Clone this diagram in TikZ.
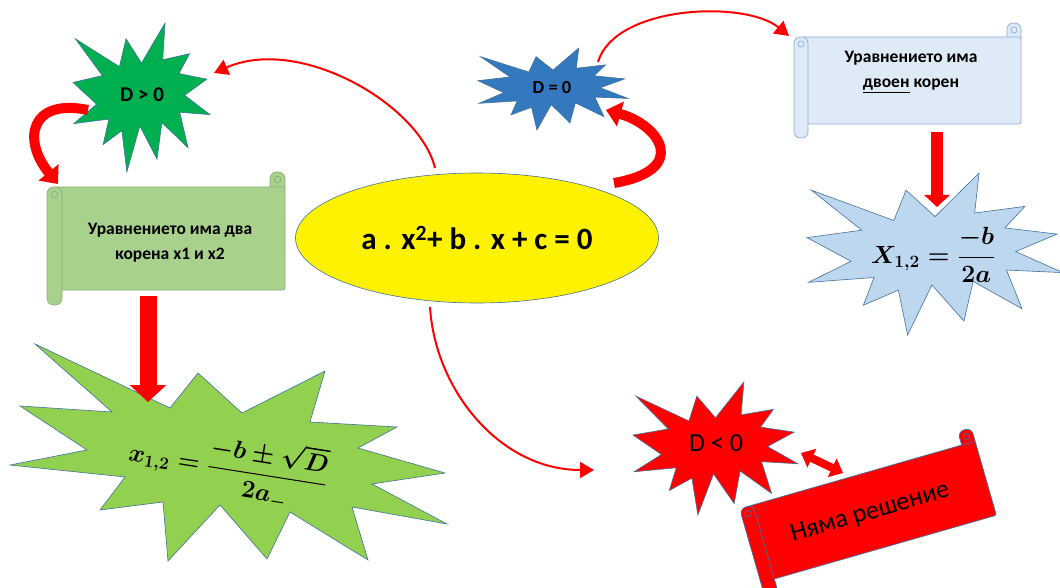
\documentclass[tikz,border=0pt]{standalone}
\usepackage{amsmath}
\usepackage{fontspec}
\setmainfont{Carlito}
\usetikzlibrary{arrows.meta,shapes.geometric}

\definecolor{outline}{RGB}{65,113,156}
\definecolor{dposfill}{RGB}{0,176,80}
\definecolor{dzerofill}{RGB}{52,121,190}
\definecolor{xfill}{RGB}{189,215,238}
\definecolor{formfill}{RGB}{146,208,80}
\definecolor{gscroll}{RGB}{169,209,142}
\definecolor{gscrollline}{RGB}{135,175,115}
\definecolor{bscroll}{RGB}{222,235,247}
\definecolor{bscrollline}{RGB}{140,170,215}

\tikzset{
	starshape/.style={fill=#1, draw=outline, line width=0.6pt},
	scrollshape/.style 2 args={fill=#1, draw=#2, line width=0.7pt},
	startxt/.style={inner sep=0pt, font=\bfseries\fontsize{21}{25}\selectfont},
	scrolltxt/.style={inner sep=0pt, align=center, font=\bfseries\fontsize{17.5}{25}\selectfont},
	formtxt/.style={inner sep=0pt, font=\boldmath\fontsize{25}{30}\selectfont},
	blockarrow/.style={draw=red, -{Triangle[length=0pt 1, width=0pt 2.1]}},
	curvearrow/.style={draw=red, line width=10pt, -{Triangle[length=0pt 1.5, width=0pt 2.5]}},
	thinarrow/.style={draw=red, line width=2pt, -{Triangle[length=14pt, width=16pt]}},
	dblarrow/.style={draw=red, line width=8pt, {Triangle[length=12pt, width=20pt]}-{Triangle[length=12pt, width=20pt]}}
}

% explosion: corner x, corner y, width, height, style
\newcommand{\sealone}[5]{%
	\begin{scope}[shift={(#1,#2)}, xscale=#3/100, yscale=#4/100]
		\filldraw[#5] (50,26.9) -- (67.2,0) -- (65.5,24.7) -- (85.1,20.6) -- (77.3,33.9)
			-- (97.7,37.7) -- (81.5,48.5) -- (100,61.5) -- (77.9,59.9) -- (84,83.8)
			-- (64.9,66.9) -- (61.3,91.4) -- (48.8,69.1) -- (39.3,100) -- (35.7,72.3)
			-- (22,81.6) -- (26.2,64.5) -- (0.6,67.5) -- (17.2,54.5) -- (0,39.9)
			-- (21.4,35.3) -- (1.7,10.6) -- (33.9,29.3) -- (38.7,10.6) -- cycle;
	\end{scope}}

% scroll round the origin: width, height, roll, style
\newcommand{\hscroll}[4]{%
	\pgfmathsetmacro{\scw}{#1/2}%
	\pgfmathsetmacro{\sch}{#2/2}%
	\pgfmathsetmacro{\scd}{#3}%
	\pgfmathsetmacro{\scr}{0.45*#3}%
	\filldraw[#4, rounded corners=\scr pt] ({\scw-\scd},-\sch) rectangle (\scw,{-\sch+1.5*\scd});
	\filldraw[#4, rounded corners=2pt] ({-\scw+0.5*\scd},{-\sch+\scd}) rectangle (\scw,{\sch-\scd});
	\filldraw[#4, rounded corners=\scr pt] (-\scw,{-\sch+\scd}) rectangle ({-\scw+\scd},\sch);
	\filldraw[#4] ({\scw-0.5*\scd},{-\sch+0.5*\scd}) circle (0.22*\scd);
	\filldraw[#4] ({-\scw+0.5*\scd},{-\sch+1.5*\scd}) circle (0.22*\scd);
}

\begin{document}
\begin{tikzpicture}[x=1pt, y=-1pt]
	\useasboundingbox (0,0) rectangle (1060,588);
	
	\sealone{73}{23}{137}{149}{starshape=dposfill}
	\sealone{478}{48}{150}{82}{starshape=dzerofill}
	\sealone{633}{382}{165}{133}{starshape=red}
	\sealone{807}{173}{256}{162}{starshape=xfill}
	
	\filldraw[starshape=formfill] (35,344) -- (170,408) -- (198,373) -- (242,413) -- (325,371)
		-- (310,422) -- (397,427) -- (358,448) -- (445,473) -- (372,484) -- (447,524)
		-- (352,507) -- (368,560) -- (290,512) -- (267,559) -- (220,505) -- (168,561)
		-- (163,502) -- (100,510) -- (125,477) -- (10,465) -- (87,450) -- (20,406)
		-- (112,412) -- cycle;
	
	\begin{scope}[shift={(166,238.5)}]
		\hscroll{238}{133}{15}{scrollshape={gscroll}{gscrollline}}
	\end{scope}
	\begin{scope}[shift={(907.5,80.5)}]
		\hscroll{227}{115}{14}{scrollshape={bscroll}{bscrollline}}
	\end{scope}
	\begin{scope}[shift={(868,512)}, rotate=16]
		\hscroll{245}{105}{14}{scrollshape={red}{outline}}
	\end{scope}
	
	\node[ellipse, fill=yellow, draw=outline, line width=0.6pt, minimum width=363pt, minimum height=130pt,
		inner sep=0pt, font=\bfseries\fontsize{31}{36}\selectfont] (eq) at (477,238)
		{a . x\textsuperscript{2}+ b . x + c = 0};
	
	\node[startxt] (dpos) at (142,95) {D > 0};
	\node[startxt, font=\bfseries\fontsize{18.5}{22}\selectfont] (dzero) at (552,87) {D = 0};
	\node[startxt, font=\fontsize{26}{30}\selectfont] (dneg) at (716,443) {D < 0};
	
	\node[scrolltxt] (twoRoots) at (170,243) {Уравнението има два\\корена x1 и x2};
	\node[scrolltxt] (doubleRoot) at (911,72) {Уравнението има\\\underline{двоен} корен};
	\node[inner sep=0pt, rotate=16, font=\fontsize{26}{30}\selectfont] (noSol) at (870,513) {Няма решение};
	
	\node[formtxt, rotate=-9] (formA) at (228,467) {$\displaystyle x_{1,2}=\frac{-b\pm\sqrt{D}}{2a_{-}}$};
	\node[formtxt] (formB) at (933,255) {$\displaystyle X_{1,2}=\frac{-b}{2a}$};
	
	\coordinate (dposW) at (88,110);
	\coordinate (dposE) at (214,73);
	\coordinate (twoRootsNW) at (58,184);
	\coordinate (twoRootsS) at (148,296);
	\coordinate (formAN) at (148,402);
	\coordinate (eqNW) at (435,168);
	\coordinate (eqNE) at (614,183);
	\coordinate (eqS) at (430,307);
	\coordinate (dzeroN) at (598,62);
	\coordinate (dzeroSE) at (606,110);
	\coordinate (doubleRootW) at (789,36);
	\coordinate (doubleRootS) at (937,132);
	\coordinate (formBN) at (937,207);
	\coordinate (dnegW) at (594,470);
	\coordinate (dnegE) at (801,453);
	\coordinate (noSolNW) at (843,473);
	
	\draw[blockarrow, line width=17pt] (twoRootsS) -- (formAN);
	\draw[blockarrow, line width=12pt] (doubleRootS) -- (formBN);
	
	\draw[curvearrow] (dposW) .. controls (30,98) and (22,140) .. (twoRootsNW);
	\draw[curvearrow] (eqNE) .. controls (690,170) and (660,125) .. (dzeroSE);
	\draw[thinarrow] (eqNW) .. controls (420,105) and (300,35) .. (dposE);
	\draw[thinarrow] (dzeroN) .. controls (615,5) and (745,0) .. (doubleRootW);
	\draw[thinarrow] (eqS) .. controls (435,390) and (500,470) .. (dnegW);
	\draw[dblarrow] (dnegE) -- (noSolNW);
\end{tikzpicture}
\end{document}
